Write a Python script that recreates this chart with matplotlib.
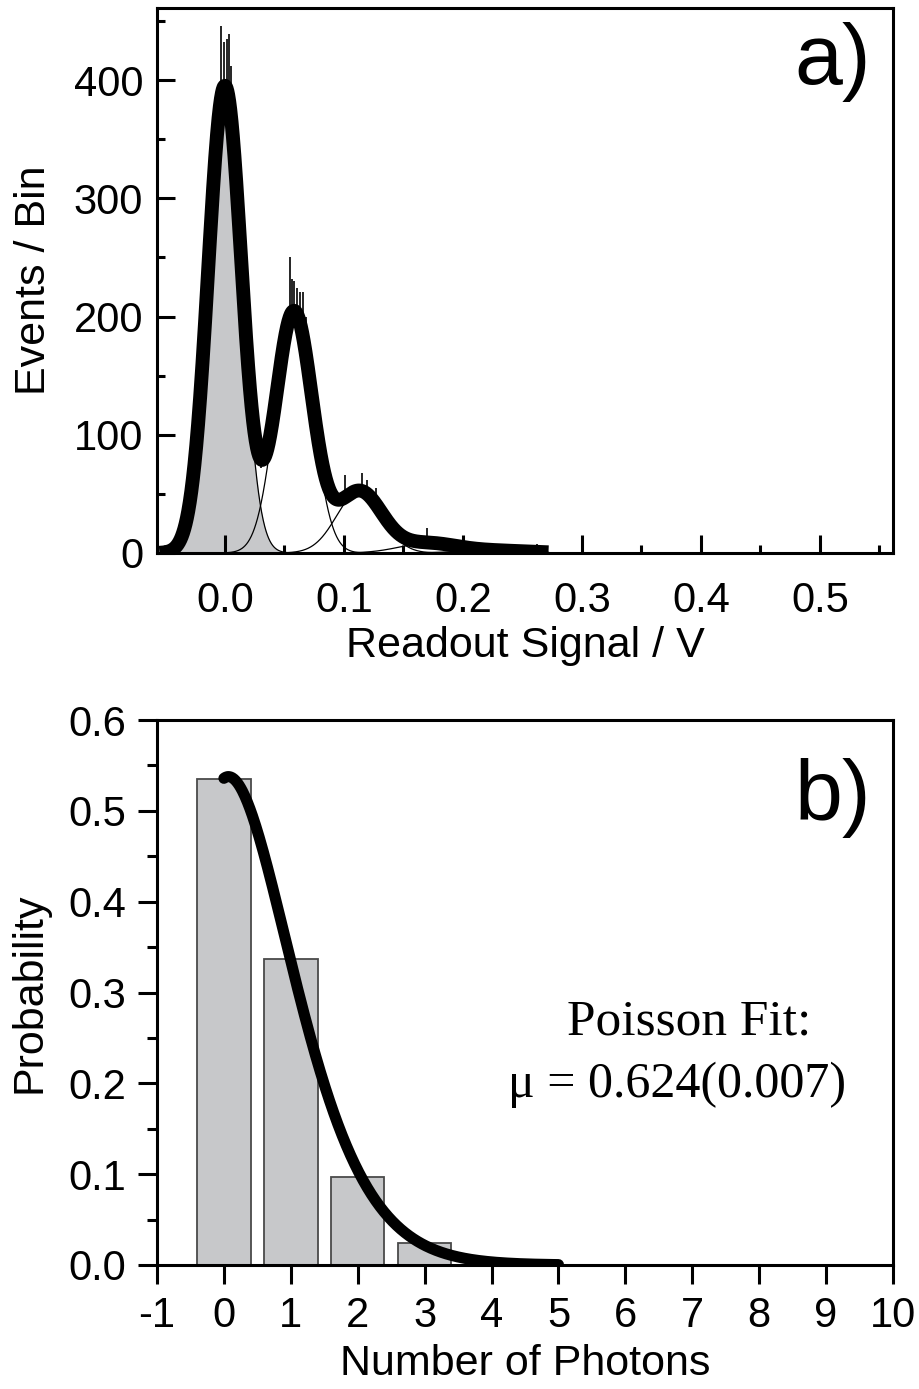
import numpy as np
import matplotlib
matplotlib.use("Agg")
import matplotlib.pyplot as plt
from matplotlib.ticker import MultipleLocator
from math import gamma, exp

# Gaussian components fitted to the readout histogram (0, 1, 2, 3, 4 photons)
peak_centers = [0.0, 0.058, 0.113, 0.170, 0.225]
peak_heights = [395, 204, 52, 8, 2]
peak_widths = [0.014, 0.0155, 0.019, 0.024, 0.030]

# Histogram bins that poke out above the fitted envelope
spike_x = [-0.0034, -0.0011, 0.0017, 0.0034, 0.0050,
           0.0300, 0.0326,
           0.0545, 0.0567, 0.0584, 0.0607, 0.0629, 0.0654, 0.0683,
           0.1014, 0.1090, 0.1154, 0.1197, 0.1270,
           0.1700, 0.2626]
spike_counts = [446, 432, 435, 439, 412,
                72, 99,
                250, 232, 230, 224, 221, 221, 200,
                66, 56, 68, 62, 55,
                21, 8]

# Photon-number distribution and Poisson fit
photon_n = [0, 1, 2, 3]
photon_prob = [0.535, 0.337, 0.097, 0.024]
poisson_mu = 0.624

a_xticks = [0.0, 0.1, 0.2, 0.3, 0.4, 0.5]
a_yticks = [0, 100, 200, 300, 400]
b_xticks = list(range(-1, 11))
b_yticks = [0.0, 0.1, 0.2, 0.3, 0.4, 0.5, 0.6]

plt.rcParams['font.family'] = ['Liberation Sans', 'DejaVu Sans']
plt.rcParams['axes.unicode_minus'] = False

W, H = 919, 1389
fig = plt.figure(figsize=(W / 100, H / 100), dpi=100)


def rect(l, t, r, b):
    return [l / W, 1 - b / H, (r - l) / W, (b - t) / H]


def gauss(x, c, h, s):
    return h * np.exp(-0.5 * ((x - c) / s) ** 2)


def model(x):
    return sum(gauss(x, c, h, s) for c, h, s in zip(peak_centers, peak_heights, peak_widths))


GRAY = '#c7c8ca'
TICK_FS = 30
LABEL_FS = 31
SERIF = ['Liberation Serif', 'DejaVu Serif']

# ---------------- panel a ----------------
ax = fig.add_axes(rect(157, 8, 893, 553))
ax.set_xlim(-0.057, 0.5615)
ax.set_ylim(0, 461)

xs = np.linspace(-0.055, 0.272, 1500)

# zero-photon peak shaded
g0 = gauss(xs, peak_centers[0], peak_heights[0], peak_widths[0])
ax.fill_between(xs, 0, g0, color=GRAY, lw=0, zorder=1)
for c, h, s in zip(peak_centers, peak_heights, peak_widths):
    ax.plot(xs, gauss(xs, c, h, s), color='black', lw=0.9, zorder=2)

# raw histogram: spikes above the envelope
sx = np.array(spike_x)
ax.vlines(sx, model(sx) - 5, spike_counts, color='black', lw=1.2, zorder=3)

# total fit
ax.plot(xs, model(xs), color='black', lw=10, solid_capstyle='butt', zorder=4)

ax.set_xticks(a_xticks)
ax.set_xticklabels([f'{v:.1f}' for v in a_xticks])
ax.set_yticks(a_yticks)
ax.xaxis.set_minor_locator(MultipleLocator(0.05))
ax.yaxis.set_minor_locator(MultipleLocator(50))
ax.tick_params(which='both', direction='in', width=2.2, labelsize=TICK_FS)
ax.tick_params(axis='x', pad=20)
ax.tick_params(axis='y', pad=10)
ax.tick_params(which='major', length=13)
ax.tick_params(which='minor', length=6)
for sp in ax.spines.values():
    sp.set_linewidth(2.2)
ax.set_xlabel('Readout Signal / V', fontsize=LABEL_FS, labelpad=4)
ax.set_ylabel('Events / Bin', fontsize=LABEL_FS, labelpad=14)
ax.text(0.97, 0.975, 'a)', transform=ax.transAxes, ha='right', va='top', fontsize=62)

# ---------------- panel b ----------------
bx = fig.add_axes(rect(157, 720, 893, 1265))
bx.set_xlim(-1, 10)
bx.set_ylim(0, 0.6)

bx.bar(photon_n, photon_prob, width=0.8, color=GRAY, edgecolor='#4a4a4a',
       linewidth=1.3, zorder=2)

xf = np.linspace(0, 5, 400)
yf = np.array([poisson_mu ** v * exp(-poisson_mu) / gamma(v + 1) for v in xf])
bx.plot(xf, yf, color='black', lw=8, solid_capstyle='round', zorder=3)

bx.set_xticks(b_xticks)
bx.set_yticks(b_yticks)
bx.set_yticklabels([f'{v:.1f}' for v in b_yticks])
bx.yaxis.set_minor_locator(MultipleLocator(0.05))
bx.tick_params(which='both', direction='out', width=2.2, labelsize=TICK_FS, pad=8)
bx.tick_params(which='major', length=14)
bx.tick_params(which='minor', length=7)
for sp in bx.spines.values():
    sp.set_linewidth(2.2)
bx.set_xlabel('Number of Photons', fontsize=LABEL_FS, labelpad=6)
bx.set_ylabel('Probability', fontsize=LABEL_FS, labelpad=14)
bx.text(0.97, 0.93, 'b)', transform=bx.transAxes, ha='right', va='top', fontsize=62)
bx.text(6.95, 0.2675, 'Poisson Fit:', ha='center', va='center', fontsize=37, family=SERIF)
bx.text(6.77, 0.198, '\u03bc = 0.624(0.007)', ha='center', va='center', fontsize=36,
        family=SERIF)

fig.savefig('out.png', dpi=100)
